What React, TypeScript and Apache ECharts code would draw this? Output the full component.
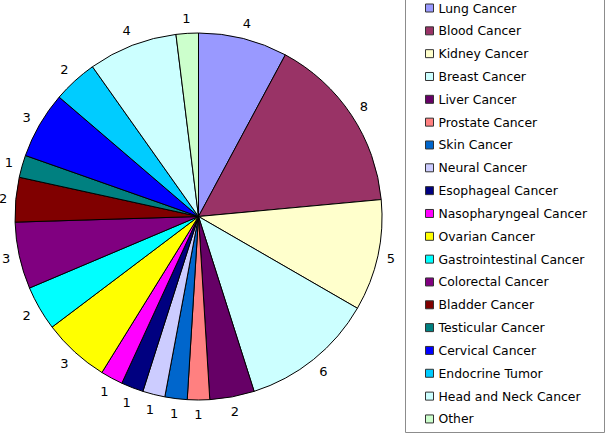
import React, { useEffect, useRef } from "react";
import * as echarts from "echarts";

const categories = [
  "Lung Cancer",
  "Blood Cancer",
  "Kidney Cancer",
  "Breast Cancer",
  "Liver Cancer",
  "Prostate Cancer",
  "Skin Cancer",
  "Neural Cancer",
  "Esophageal Cancer",
  "Nasopharyngeal Cancer",
  "Ovarian Cancer",
  "Gastrointestinal Cancer",
  "Colorectal Cancer",
  "Bladder Cancer",
  "Testicular Cancer",
  "Cervical Cancer",
  "Endocrine Tumor",
  "Head and Neck Cancer",
  "Other",
];

const values = [4, 8, 5, 6, 2, 1, 1, 1, 1, 1, 3, 2, 3, 2, 1, 3, 2, 4, 1];

const colors = [
  "#9999FF",
  "#993366",
  "#FFFFCC",
  "#CCFFFF",
  "#660066",
  "#FF8080",
  "#0066CC",
  "#CCCCFF",
  "#000080",
  "#FF00FF",
  "#FFFF00",
  "#00FFFF",
  "#800080",
  "#800000",
  "#008080",
  "#0000FF",
  "#00CCFF",
  "#CCFFFF",
  "#CCFFCC",
];

const FONT = "'DejaVu Sans', sans-serif";
const CX = 198.5;
const CY = 216.5;
const R = 183.5;
const GAP = 8;

export default function App() {
  const ref = useRef<HTMLDivElement>(null);
  useEffect(() => {
    if (!ref.current) return;
    const chart = echarts.init(ref.current, null, { renderer: "svg" });
    const total = values.reduce((a, b) => a + b, 0);
    const mids: number[] = [];
    let cum = 0;
    values.forEach((v) => {
      mids.push(((cum + v / 2) / total) * Math.PI * 2);
      cum += v;
    });
    chart.setOption({
      animation: false,
      backgroundColor: "#ffffff",
      graphic: [
        {
          type: "rect",
          shape: { x: 405.5, y: -5, width: 199, height: 437.5 },
          style: { fill: "none", stroke: "#8c8c8c", lineWidth: 1 },
          silent: true,
        },
      ],
      legend: {
        orient: "vertical",
        left: 425,
        top: 1,
        padding: 0,
        itemWidth: 8,
        itemHeight: 8,
        itemGap: 8.83,
        icon: "rect",
        itemStyle: { borderColor: "#333333", borderWidth: 1 },
        textStyle: {
          fontFamily: FONT,
          fontSize: 12.4,
          lineHeight: 14,
          color: "#000000",
        },
        data: categories,
      },
      series: [
        {
          type: "pie",
          center: [CX, CY],
          radius: R,
          startAngle: 90,
          clockwise: true,
          avoidLabelOverlap: false,
          data: categories.map((name, i) => ({
            name,
            value: values[i],
            itemStyle: { color: colors[i] },
          })),
          itemStyle: { borderColor: "#000000", borderWidth: 1 },
          emphasis: { disabled: true },
          label: {
            show: true,
            position: "outside",
            formatter: "{c}",
            fontFamily: FONT,
            fontSize: 13,
            color: "#000000",
          },
          labelLine: { show: false, length: 10, length2: 0 },
          labelLayout: (params: any) => {
            const a = mids[params.dataIndex];
            const ux = Math.sin(a);
            const uy = -Math.cos(a);
            const w = params.labelRect.width;
            const h = params.labelRect.height;
            const d = R + GAP + (w / 2) * Math.abs(ux) + (h / 2) * Math.abs(uy);
            return {
              x: CX + ux * d,
              y: CY + uy * d,
              align: "center",
              verticalAlign: "middle",
            };
          },
        },
      ],
    });
    return () => chart.dispose();
  }, []);
  return (
    <div
      ref={ref}
      style={{ position: "fixed", left: 0, top: 0, width: 611, height: 437 }}
    />
  );
}
